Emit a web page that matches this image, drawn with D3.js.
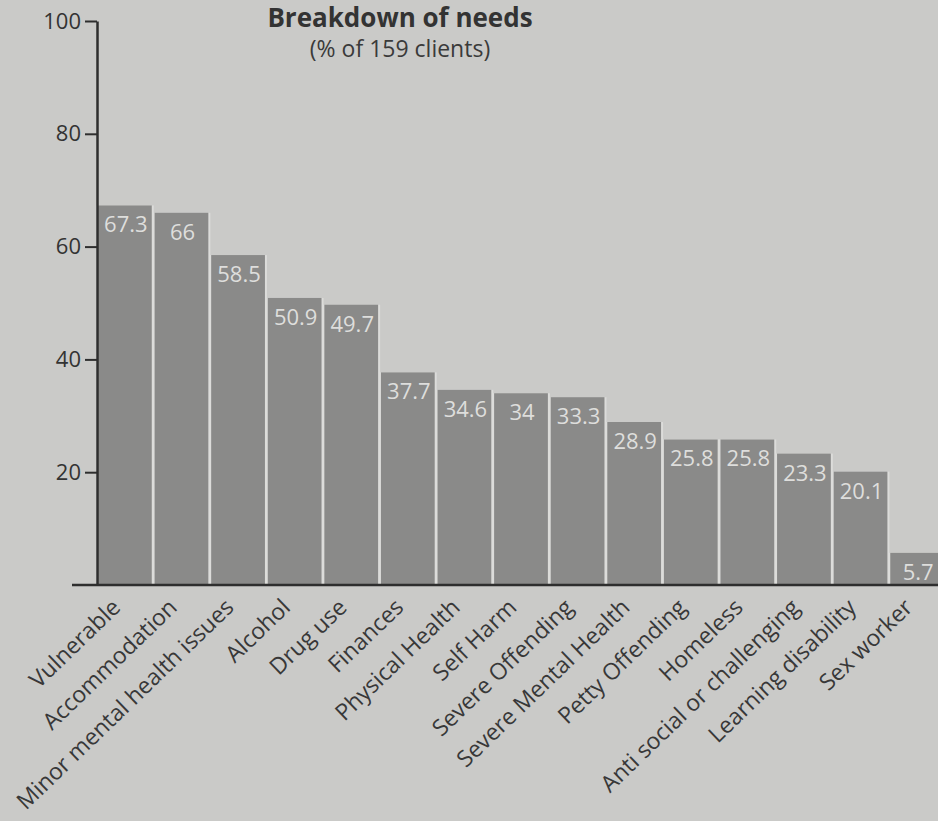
<!DOCTYPE html>
<html>
<head>
<meta charset="utf-8">
<script src="https://cdn.jsdelivr.net/npm/d3@7"></script>
<style>
  html, body { margin: 0; padding: 0; background: #cacac8; }
  svg { display: block; font-family: "Open Sans", "Noto Sans", sans-serif; }
</style>
</head>
<body>
<svg id="chart"></svg>
<script>
// Chart data
const categories = [
    "Vulnerable", "Accommodation", "Minor mental health issues", "Alcohol", "Drug use",
    "Finances", "Physical Health", "Self Harm", "Severe Offending", "Severe Mental Health",
    "Petty Offending", "Homeless", "Anti social or challenging", "Learning disability", "Sex worker"
];
const values = [67.3, 66, 58.5, 50.9, 49.7, 37.7, 34.6, 34, 33.3, 28.9, 25.8, 25.8, 23.3, 20.1, 5.7];
const yTicks = [20, 40, 60, 80, 100];
const title = "Breakdown of needs";
const subtitle = "(% of 159 clients)";

// Dimensions
const width = 938, height = 821;
const left = 98, step = 56.4;

const svg = d3.select("#chart")
    .attr("width", width)
    .attr("height", height);

// Scales
const x = d3.scaleBand()
    .domain(categories)
    .range([left, left + step * categories.length])
    .paddingInner(0.05)
    .paddingOuter(0);

const y = d3.scaleLinear()
    .domain([0, 100])
    .range([585, 21]);

// Light separators behind the bars
svg.append("g")
    .selectAll("rect")
    .data(values)
    .enter()
    .append("rect")
    .attr("x", (d, i) => x(categories[i]) - 2)
    .attr("y", d => y(d))
    .attr("width", x.bandwidth() + 4)
    .attr("height", d => y(0) - y(d))
    .attr("fill", "#dcdcda");

// Bars
svg.append("g")
    .selectAll("rect")
    .data(values)
    .enter()
    .append("rect")
    .attr("x", (d, i) => x(categories[i]))
    .attr("y", d => y(d))
    .attr("width", x.bandwidth())
    .attr("height", d => y(0) - y(d))
    .attr("fill", "#8a8a89");

// Value labels inside bars
svg.append("g")
    .selectAll("text")
    .data(values)
    .enter()
    .append("text")
    .attr("x", (d, i) => x(categories[i]) + x.bandwidth() / 2 + 1)
    .attr("y", d => y(d) + 27)
    .attr("text-anchor", "middle")
    .attr("font-size", "22px")
    .attr("fill", "#dededc")
    .text(d => d);

// Y axis
const yAxis = svg.append("g")
    .attr("transform", `translate(${left - 1},0)`)
    .call(d3.axisLeft(y).tickValues(yTicks).tickSize(12).tickPadding(4).tickSizeOuter(0));

yAxis.select(".domain").attr("stroke", "#2e2e2e").attr("stroke-width", 2.5);
yAxis.selectAll(".tick line").attr("stroke", "#2e2e2e").attr("stroke-width", 2);
yAxis.selectAll(".tick text")
    .attr("font-size", "22px")
    .attr("fill", "#333")
    .attr("font-family", "'Open Sans', sans-serif");

// X baseline
svg.append("line")
    .attr("x1", 72)
    .attr("x2", width)
    .attr("y1", y(0))
    .attr("y2", y(0))
    .attr("stroke", "#2e2e2e")
    .attr("stroke-width", 2.5);

// Category labels, rotated
svg.append("g")
    .selectAll("text")
    .data(categories)
    .enter()
    .append("text")
    .attr("transform", d => `translate(${x(d) + x.bandwidth() / 2 - 3}, 609) rotate(-44)`)
    .attr("text-anchor", "end")
    .attr("font-size", "23px")
    .attr("fill", "#383838")
    .text(d => d);

// Title
svg.append("text")
    .attr("x", 400)
    .attr("y", 27)
    .attr("text-anchor", "middle")
    .attr("font-size", "26px")
    .attr("font-weight", "bold")
    .attr("fill", "#333")
    .text(title);

svg.append("text")
    .attr("x", 400)
    .attr("y", 57)
    .attr("text-anchor", "middle")
    .attr("font-size", "23px")
    .attr("fill", "#3a3a3a")
    .text(subtitle);
</script>
</body>
</html>
